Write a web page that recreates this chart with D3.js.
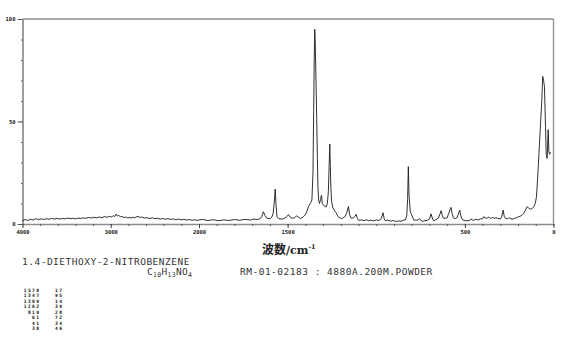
<!DOCTYPE html>
<html>
<head>
<meta charset="utf-8">
<script src="https://cdn.jsdelivr.net/npm/d3@7"></script>
<style>
  body { margin: 0; background: #fff; }
  svg { display: block; }
</style>
</head>
<body>
<div id="chart"></div>
<script>
const width = 570, height = 358;

// spectrum: [wavenumber cm-1, relative intensity]
// 4000-2000 region (drawn at half scale)
const spectrumHigh = [
  [4000, 1.6], [3970, 2.2], [3940, 1.7], [3910, 2.3], [3880, 1.9], [3850, 2.6],
  [3820, 2.1], [3790, 2.5], [3760, 2.2], [3730, 2.6], [3700, 2.3], [3670, 2.7],
  [3640, 2.4], [3610, 2.8], [3580, 2.4], [3550, 2.7], [3520, 2.5], [3490, 2.9],
  [3460, 2.6], [3430, 2.8], [3400, 2.5], [3370, 2.9], [3340, 2.7], [3310, 3.0],
  [3280, 2.8], [3250, 3.2], [3220, 2.9], [3190, 3.3], [3160, 3.0], [3130, 3.4],
  [3100, 3.1], [3070, 3.6], [3040, 3.3], [3010, 3.8], [2990, 3.4], [2970, 4.1],
  [2955, 3.6], [2940, 4.8], [2925, 3.9], [2910, 4.2], [2890, 3.5], [2870, 3.7],
  [2850, 3.1], [2830, 3.4], [2810, 3.0], [2790, 3.2], [2770, 2.9], [2750, 3.3],
  [2730, 3.0], [2710, 3.5], [2690, 3.7], [2670, 3.2], [2650, 3.4], [2620, 2.9],
  [2590, 3.1], [2560, 2.7], [2530, 3.0], [2500, 2.6], [2470, 2.8], [2440, 2.4],
  [2410, 2.7], [2380, 2.3], [2350, 2.6], [2320, 2.2], [2290, 2.5], [2260, 2.1],
  [2230, 2.4], [2200, 2.0], [2170, 2.3], [2140, 1.9], [2110, 2.2], [2080, 1.8],
  [2050, 2.1], [2020, 1.7], [2000, 2.0]
];

// 2000-0 region
const spectrumLow = [
  [1980, 2.2], [1950, 1.7], [1920, 2.1], [1890, 1.6], [1860, 2.0], [1830, 1.7],
  [1800, 2.2], [1770, 1.8], [1740, 2.3], [1710, 1.9], [1690, 2.4], [1670, 2.2],
  [1655, 2.6], [1646, 3.6], [1637, 6.0], [1628, 4.2], [1617, 2.8], [1600, 2.6],
  [1590, 3.2], [1582, 5.0], [1576, 10], [1570, 17], [1565, 9], [1560, 3.5],
  [1550, 2.6], [1530, 2.4], [1515, 2.9], [1505, 3.6], [1495, 4.6], [1486, 3.4],
  [1476, 2.8], [1462, 3.0], [1448, 4.0], [1438, 3.2], [1429, 2.8], [1420, 3.0],
  [1411, 3.6], [1400, 4.5], [1392, 6.0], [1383, 8.4], [1372, 10], [1363, 11.7],
  [1357, 25], [1353, 55], [1350, 80], [1347, 95], [1344, 88], [1340, 70],
  [1336, 52], [1332, 32], [1329, 18], [1324, 11], [1320, 10], [1314, 12],
  [1309, 14], [1304, 10], [1298, 9.3], [1290, 8.5], [1282, 8.4], [1276, 10],
  [1270, 16], [1266, 28], [1262, 39], [1259, 28], [1256, 18], [1252, 11],
  [1245, 8], [1235, 6.5], [1226, 5.4], [1215, 3.5], [1203, 2.8], [1190, 2.8],
  [1178, 3.5], [1168, 5.0], [1157, 8.5], [1150, 4.5], [1143, 3.0], [1137, 2.8],
  [1128, 3.0], [1120, 3.8], [1113, 4.7], [1107, 2.8], [1100, 1.8], [1085, 2.0],
  [1070, 1.6], [1055, 2.1], [1043, 1.6], [1030, 1.9], [1015, 1.5], [1000, 2.0],
  [985, 1.7], [972, 2.6], [962, 5.5], [955, 2.5], [949, 1.6], [935, 1.9],
  [920, 1.4], [905, 1.7], [890, 1.2], [875, 1.5], [860, 1.3], [848, 1.9],
  [836, 2.0], [828, 4], [823, 12], [819, 28], [815, 14], [808, 6],
  [798, 4], [789, 2], [775, 1.8], [762, 2.1], [755, 2.6], [748, 1.7],
  [738, 1.3], [725, 1.6], [712, 1.8], [700, 2.4], [691, 4.9], [682, 2.4],
  [676, 1.6], [665, 2.0], [650, 2.8], [640, 5.0], [634, 6.5], [627, 4.0],
  [620, 2.8], [608, 2.8], [600, 3.0], [592, 5.0], [583, 7.0], [578, 8.1],
  [572, 5.0], [565, 3.0], [555, 2.6], [545, 3.0], [537, 4.8], [529, 6.8],
  [523, 4.0], [515, 2.2], [505, 1.8], [495, 1.6], [488, 1.6], [475, 1.7],
  [465, 2.5], [459, 2.0], [450, 1.8], [440, 2.3], [425, 2.0], [410, 2.6],
  [400, 2.5], [394, 3.6], [385, 3.0], [375, 2.8], [365, 3.4], [355, 2.7],
  [345, 3.2], [335, 2.8], [325, 3.0], [315, 2.8], [300, 2.4], [292, 3.5],
  [284, 6.8], [278, 3.8], [271, 2.8], [260, 2.6], [250, 3.0], [240, 2.6],
  [233, 2.3], [220, 2.8], [210, 3.0], [196, 3.6], [185, 3.9], [175, 4.5],
  [168, 5.2], [158, 6.8], [149, 8.4], [140, 7.8], [130, 7.2], [120, 7.6],
  [111, 8.4], [103, 10], [96, 13.3], [89, 23], [81, 36], [73, 49],
  [66, 60], [61, 72], [56, 70], [51, 67], [45, 47], [41, 34],
  [36, 32], [30, 46], [26, 35], [22, 34], [17, 35]
];

// peak table
const peakWavenumbers = [1570, 1347, 1309, 1262, 819, 61, 41, 30];
const peakIntensities = [17, 95, 14, 39, 28, 72, 34, 46];

// axis ticks
const xMajorTicks = [4000, 3000, 2000, 1500, 500, 0];
const yMajorTicks = [0, 50, 100];

const plotLeft = 22.5, plotRight = 553.5, plotTop = 19, plotBottom = 224;

const svg = d3.select("#chart").append("svg")
  .attr("width", width)
  .attr("height", height);

// x axis is compressed by half above 2000 cm-1
const x = d3.scaleLinear()
  .domain([4000, 2000, 0])
  .range([plotLeft, 199, plotRight]);

const y = d3.scaleLinear()
  .domain([0, 100])
  .range([plotBottom, plotTop]);

const xMinorTicks = d3.range(4000, 2000, -200).concat(d3.range(2000, -1, -100));
const yMinorTicks = d3.range(10, 100, 10);

// frame: top and right lines
svg.append("line")
  .attr("x1", plotLeft).attr("x2", plotRight)
  .attr("y1", plotTop).attr("y2", plotTop)
  .attr("stroke", "#8c8c8c").attr("stroke-width", 1.5);
svg.append("line")
  .attr("x1", plotRight).attr("x2", plotRight)
  .attr("y1", plotTop).attr("y2", plotBottom)
  .attr("stroke", "#9a9a9a").attr("stroke-width", 1.5);

// x axis
const gx = svg.append("g")
  .attr("transform", `translate(0,${plotBottom})`)
  .call(d3.axisBottom(x).tickValues(xMinorTicks).tickSize(2).tickFormat("").tickSizeOuter(0));
gx.select(".domain").attr("stroke", "#8c8c8c").attr("stroke-width", 1.3);
gx.selectAll(".tick line").attr("stroke", "#555");

const gxMajor = svg.append("g")
  .attr("transform", `translate(0,${plotBottom})`)
  .call(d3.axisBottom(x).tickValues(xMajorTicks).tickSize(4).tickPadding(2).tickFormat(d3.format("d")));
gxMajor.select(".domain").remove();
gxMajor.selectAll(".tick line").attr("stroke", "#444");
gxMajor.selectAll("text")
  .attr("font-family", "DejaVu Sans Mono")
  .attr("font-size", "5.5px")
  .attr("font-weight", "bold")
  .attr("fill", "#222");

// y axis
const gy = svg.append("g")
  .attr("transform", `translate(${plotLeft},0)`)
  .call(d3.axisLeft(y).tickValues(yMinorTicks).tickSize(1.5).tickFormat("").tickSizeOuter(0));
gy.select(".domain").attr("stroke", "#666").attr("stroke-width", 1.3);
gy.selectAll(".tick line").attr("stroke", "#555");

const gyMajor = svg.append("g")
  .attr("transform", `translate(${plotLeft},0)`)
  .call(d3.axisLeft(y).tickValues(yMajorTicks).tickSize(5).tickPadding(2).tickFormat(d3.format("d")));
gyMajor.select(".domain").remove();
gyMajor.selectAll(".tick line").attr("stroke", "#555");
gyMajor.selectAll("text")
  .attr("font-family", "DejaVu Sans Mono")
  .attr("font-size", "5.5px")
  .attr("font-weight", "bold")
  .attr("fill", "#222");

// spectrum
const line = d3.line()
  .x(d => x(d[0]))
  .y(d => y(d[1]));

svg.append("path")
  .datum(spectrumHigh.concat(spectrumLow))
  .attr("d", line)
  .attr("fill", "none")
  .attr("stroke", "#1a1a1a")
  .attr("stroke-width", 0.9)
  .attr("stroke-linejoin", "round");

// x axis title
const xTitle = svg.append("text")
  .attr("x", 262)
  .attr("y", 254)
  .attr("fill", "#222")
  .attr("font-weight", "bold");
xTitle.append("tspan")
  .attr("font-family", "Noto Sans CJK JP")
  .attr("font-size", "12px")
  .text("波数");
xTitle.append("tspan")
  .attr("font-family", "DejaVu Serif")
  .attr("font-size", "11px")
  .text("/cm");
xTitle.append("tspan")
  .attr("font-family", "DejaVu Serif")
  .attr("font-size", "6.5px")
  .attr("dy", -5)
  .text("-1");

// compound name and measuring conditions
const mono = "DejaVu Sans Mono";
svg.append("text")
  .attr("x", 22).attr("y", 265)
  .attr("font-family", mono).attr("font-size", "9.5px")
  .attr("letter-spacing", "0.5px").attr("fill", "#333")
  .text("1.4-DIETHOXY-2-NITROBENZENE");

const formula = svg.append("text")
  .attr("x", 147).attr("y", 275)
  .attr("font-family", mono).attr("font-size", "9.5px")
  .attr("letter-spacing", "0.3px").attr("fill", "#333");
[["C", false], ["10", true], ["H", false], ["13", true], ["NO", false], ["4", true]].forEach(([t, sub], i) => {
  formula.append("tspan")
    .attr("font-size", sub ? "6.5px" : "9.5px")
    .attr("dy", i === 0 ? 0 : (sub ? 1.5 : -1.5))
    .text(t);
});

svg.append("text")
  .attr("x", 240).attr("y", 275)
  .attr("font-family", mono).attr("font-size", "9.5px")
  .attr("letter-spacing", "0.5px").attr("fill", "#333")
  .text("RM-01-02183 : 4880A.200M.POWDER");

// peak table
const table = svg.append("g")
  .attr("font-family", mono)
  .attr("font-size", "4.6px")
  .attr("font-weight", "bold")
  .attr("letter-spacing", "1.4px")
  .attr("fill", "#111");

peakWavenumbers.forEach((w, i) => {
  const rowY = 291.5 + i * 5.5;
  table.append("text")
    .attr("x", 40.4).attr("y", rowY)
    .attr("text-anchor", "end")
    .text(w);
  table.append("text")
    .attr("x", 63.4).attr("y", rowY)
    .attr("text-anchor", "end")
    .text(peakIntensities[i]);
});
</script>
</body>
</html>
